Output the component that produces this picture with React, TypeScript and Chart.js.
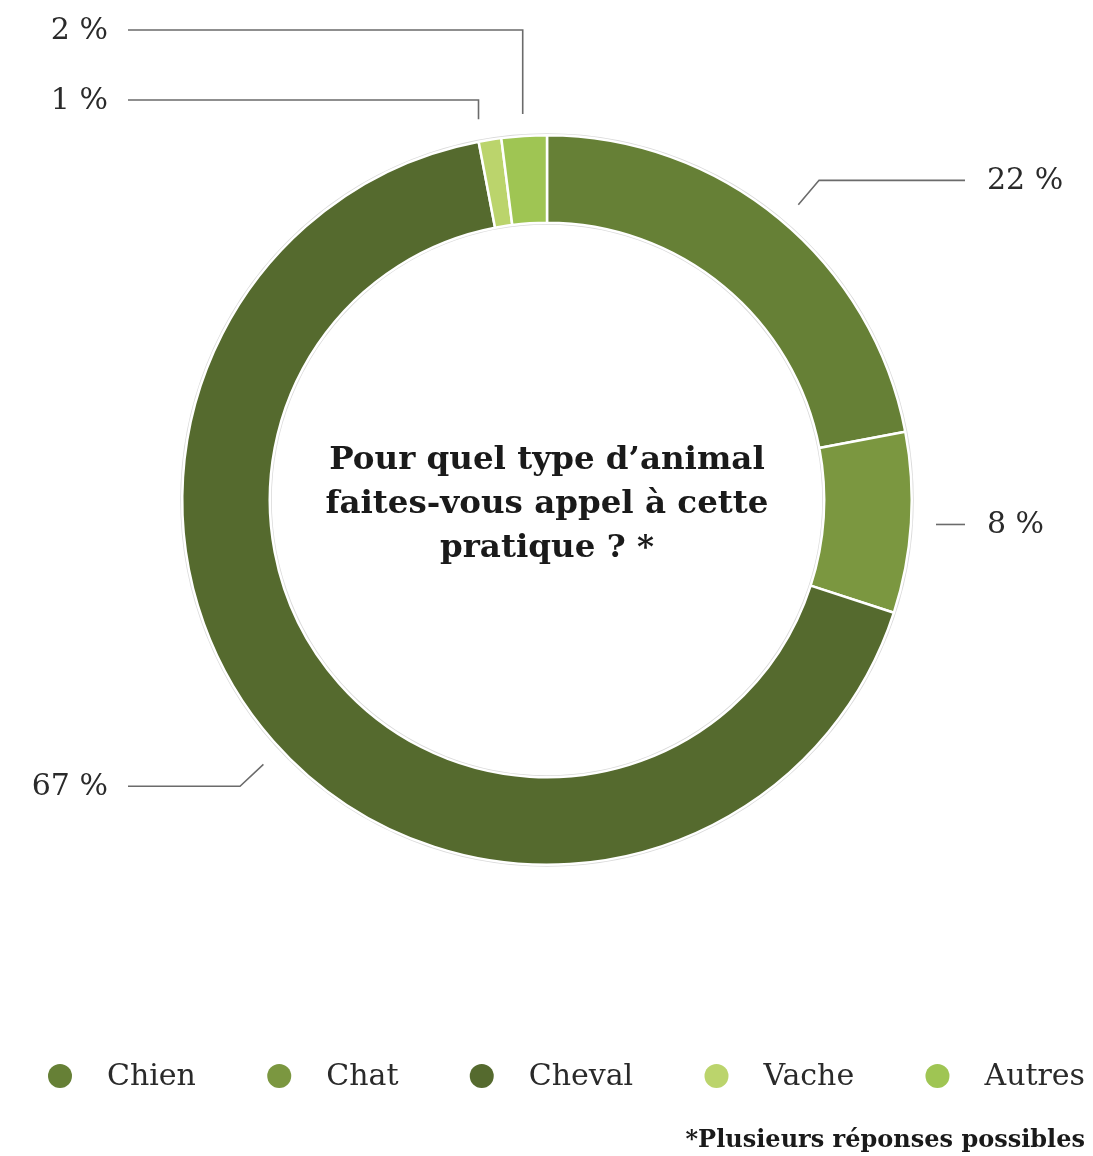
import React, { useEffect, useRef } from 'react';
import { Chart, registerables } from 'chart.js';

Chart.register(...registerables);

// ---- data ----
const categories = ['Chien', 'Chat', 'Cheval', 'Vache', 'Autres'];
const values = [22, 8, 67, 1, 2];
const colors = ['#668036', '#7b9740', '#556a2e', '#bbd46c', '#9fc553'];
const titleLines = ['Pour quel type d\u2019animal', 'faites-vous appel à cette', 'pratique ? *'];
const footnote = '*Plusieurs réponses possibles';

// ---- label leader styles (layout only) ----
const labelKinds = ['radial', 'straight', 'radial', 'vertical', 'vertical'];
const labelSides = ['right', 'right', 'left', 'left', 'left'];
const verticalTargets = [0, 0, 0, 100, 30];
const angleNudgeDeg = [0.8, 0, -1.6, -1.2, 0];

const FONT = '"DejaVu Serif", serif';

const leaderPlugin = {
  id: 'leaders',
  afterDatasetsDraw(chart: any) {
    const ctx = chart.ctx;
    const meta = chart.getDatasetMeta(0);
    const W = chart.width;
    const rightLineEnd = 965;
    const rightLabelX = 987;
    const leftLineEnd = 128;
    const leftLabelX = 108;
    ctx.save();
    meta.data.forEach((arc: any, i: number) => {
      const p = arc.getProps(['startAngle', 'endAngle', 'outerRadius', 'x', 'y'], true);
      const a = (p.startAngle + p.endAngle) / 2 + (angleNudgeDeg[i] * Math.PI) / 180;
      const R = p.outerRadius;
      const pt = (r: number) => [p.x + Math.cos(a) * r, p.y + Math.sin(a) * r];
      const kind = labelKinds[i];
      const side = labelSides[i];
      const pts: number[][] = [];
      let ly = 0;
      if (kind === 'radial') {
        const a0 = pt(R + 23);
        const a1 = pt(R + 55);
        pts.push(a0, a1, [side === 'right' ? rightLineEnd : leftLineEnd, a1[1]]);
        ly = a1[1];
      } else if (kind === 'straight') {
        const a0 = pt(R + 25);
        pts.push(a0, [side === 'right' ? rightLineEnd : leftLineEnd, a0[1]]);
        ly = a0[1];
      } else {
        const a0 = pt(R + 22);
        const ty = verticalTargets[i];
        pts.push(a0, [a0[0], ty], [side === 'right' ? rightLineEnd : leftLineEnd, ty]);
        ly = ty;
      }
      ctx.beginPath();
      ctx.strokeStyle = '#6b6b6b';
      ctx.lineWidth = 1.6;
      pts.forEach((q, k) => (k === 0 ? ctx.moveTo(q[0], q[1]) : ctx.lineTo(q[0], q[1])));
      ctx.stroke();
      ctx.fillStyle = '#2a2a2a';
      ctx.font = `30px ${FONT}`;
      ctx.textBaseline = 'middle';
      ctx.textAlign = side === 'right' ? 'left' : 'right';
      ctx.fillText(`${values[i]} %`, side === 'right' ? rightLabelX : leftLabelX, ly + 1);
    });

    // center title
    const c = meta.data[0];
    ctx.fillStyle = '#1a1a1a';
    ctx.font = `bold 32.5px ${FONT}`;
    ctx.textAlign = 'center';
    ctx.textBaseline = 'middle';
    titleLines.forEach((t, k) => {
      ctx.fillText(t, c.x, c.y + 5 + (k - 1) * 44);
    });

    // legend
    ctx.font = `30px ${FONT}`;
    const left = 48;
    const right = 1085;
    const circ = 24;
    const gapCT = 35;
    const widths = categories.map((t) => ctx.measureText(t).width);
    const itemW = widths.map((w) => circ + gapCT + w);
    const total = itemW.reduce((s, v) => s + v, 0);
    const gap = (right - left - total) / (categories.length - 1);
    let x = left;
    const ly = 1076;
    categories.forEach((t, k) => {
      ctx.beginPath();
      ctx.fillStyle = colors[k];
      ctx.arc(x + circ / 2, ly, circ / 2, 0, Math.PI * 2);
      ctx.fill();
      ctx.fillStyle = '#2a2a2a';
      ctx.textAlign = 'left';
      ctx.fillText(t, x + circ + gapCT, ly + 1);
      x += itemW[k] + gap;
    });

    // footnote
    ctx.font = `bold 24px ${FONT}`;
    ctx.textAlign = 'right';
    ctx.fillStyle = '#1a1a1a';
    ctx.fillText(footnote, W - 8, 1141);
    ctx.restore();
  },
};

const shadowPlugin = {
  id: 'ringShadow',
  beforeDatasetsDraw(chart: any) {
    const meta = chart.getDatasetMeta(0);
    const arc = meta.data[0];
    if (!arc) return;
    const p = arc.getProps(['outerRadius', 'innerRadius', 'x', 'y'], true);
    const ctx = chart.ctx;
    ctx.save();
    ctx.strokeStyle = 'rgba(0,0,0,0.15)';
    ctx.lineWidth = 2;
    ctx.beginPath();
    ctx.arc(p.x, p.y, p.outerRadius + 1, 0, Math.PI * 2);
    ctx.stroke();
    ctx.beginPath();
    ctx.arc(p.x, p.y, p.innerRadius - 1, 0, Math.PI * 2);
    ctx.stroke();
    ctx.restore();
  },
};

export default function App() {
  const ref = useRef<HTMLCanvasElement | null>(null);
  useEffect(() => {
    if (!ref.current) return;
    const chart = new Chart(ref.current, {
      type: 'doughnut',
      data: {
        labels: categories,
        datasets: [
          {
            data: values,
            backgroundColor: colors,
            borderColor: '#ffffff',
            borderWidth: 2.5,
          },
        ],
      },
      options: {
        animation: false,
        responsive: true,
        maintainAspectRatio: false,
        cutout: '76%',
        layout: { padding: { left: 181, right: 180, top: 134, bottom: 290 } },
        plugins: {
          legend: { display: false },
          tooltip: { enabled: false },
        },
      },
      plugins: [shadowPlugin, leaderPlugin],
    });
    return () => chart.destroy();
  }, []);
  return (
    <div style={{ position: 'absolute', left: 0, top: 0, width: 1093, height: 1156, background: '#fff' }}>
      <canvas ref={ref} />
    </div>
  );
}
